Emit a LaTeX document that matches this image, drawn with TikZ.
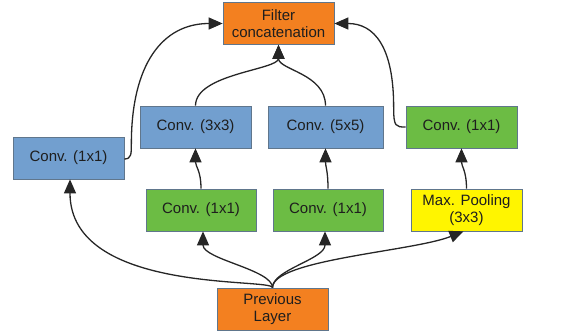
\documentclass[tikz,border=0pt]{standalone}
\usepackage{fontspec}
\setmainfont{Liberation Sans}
\usetikzlibrary{arrows.meta}

\definecolor{lorange}{RGB}{243,128,32}
\definecolor{lblue}{RGB}{114,159,207}
\definecolor{lgreen}{RGB}{108,188,68}
\definecolor{lyellow}{RGB}{255,245,0}
\definecolor{lborder}{RGB}{96,118,140}
\definecolor{ltext}{RGB}{30,30,30}

\def\boxlist{{(278.5,23.5)/concat/lorange/111/{Filter\\concatenation}},
  {(195.5,127)/c33/lblue/111/{Conv. (3x3)}}, {(325.5,127)/c55/lblue/115/{Conv. (5x5)}},
  {(461.5,127)/cr/lgreen/111/{Conv. (1x1)}}, {(68.5,158)/cl/lblue/111/{Conv. (1x1)}},
  {(201,210)/ga/lgreen/110/{Conv. (1x1)}}, {(328,210)/gb/lgreen/110/{Conv. (1x1)}},
  {(466.5,210)/pool/lyellow/111/{Max. Pooling\\(3x3)}}, {(272.5,309)/prev/lorange/111/{Previous\\Layer}}}
\tikzstyle{layer}=[draw=lborder, line width=0.7pt, inner sep=0pt, minimum height=42pt,
  align=center, text=ltext, font=\fontsize{15}{16.5}\selectfont]
\tikzstyle{edge}=[draw, line width=1.3pt, color=black!85, -{Triangle[length=14pt,width=12pt]}]

\begin{document}
\begin{tikzpicture}[x=1pt, y=-1pt]
  \useasboundingbox (0,0) rectangle (574,335);
  \foreach \pos/\name/\col/\bw/\txt in \boxlist {
    \node[layer, fill=\col, minimum width=\bw pt] (\name) at \pos {\txt};
  }

  % from the previous layer
  \path[edge] (prev.north) .. controls +(0,-10) and +(0,115) .. ([xshift=1.5pt]cl.south);
  \foreach \sink/\dx in {ga/2, gb/-3} {
    \path[edge] (prev.north) .. controls +(0,-18) and +(0,28) .. ([xshift=\dx pt]\sink.south);
  }
  \path[edge] (prev.north) .. controls +(0,-28) and +(-50,20) .. ([xshift=-3pt]pool.south);

  \foreach \source/\sink in {ga/c33, gb/c55, pool/cr} {
    \path[edge] (\source.north) .. controls +(0,-18) and +(0,18) .. (\sink.south);
  }

  % into the concatenation
  \foreach \source in {c33, c55} {
    \path[edge] (\source.north) .. controls +(0,-32) and +(0,25) .. (concat.south);
  }
  \path[edge] ([yshift=-1pt]cl.east) .. controls +(7,0) and +(0,10) .. ++(7,-15)
    .. controls +(0,-80) and +(-60,0) .. (concat.west);
  \path[edge] (cr.west) .. controls +(-10,0) and +(0,20) .. ++(-12,-20)
    .. controls +(0,-60) and +(40,0) .. (concat.east);
\end{tikzpicture}
\end{document}
